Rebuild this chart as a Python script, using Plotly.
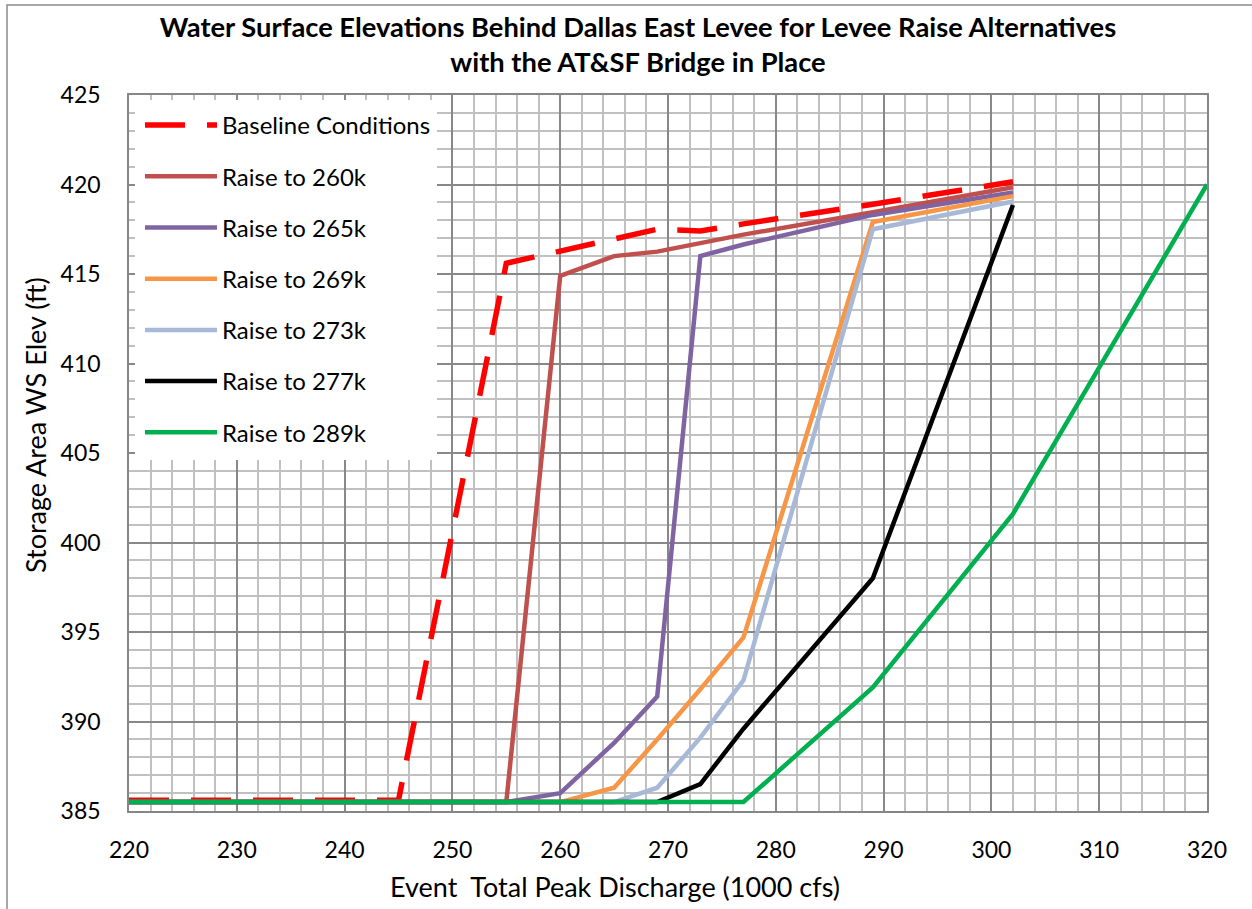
import plotly.graph_objects as go

# Event total peak discharge (1000 cfs) at which each alternative was modelled
discharge = [220, 245, 255, 260, 265, 269, 273, 277, 289, 302, 320]

# Storage-area water surface elevation (ft) for each alternative
baseline = [385.6, 385.6, 415.6, 416.3, 417.0, 417.5, 417.4, 417.8, 418.9, 420.15, None]
raise_260k = [385.5, 385.5, 385.5, 414.9, 416.0, 416.25, 416.75, 417.2, 418.45, 419.85, None]
raise_265k = [385.5, 385.5, 385.5, 386.0, 388.8, 391.4, 416.0, 416.65, 418.3, 419.55, None]
raise_269k = [385.5, 385.5, 385.5, 385.5, 386.3, 389.0, 391.8, 394.7, 417.9, 419.35, None]
raise_273k = [385.5, 385.5, 385.5, 385.5, 385.5, 386.3, 389.1, 392.3, 417.5, 419.05, None]
raise_277k = [385.5, 385.5, 385.5, 385.5, 385.5, 385.5, 386.5, 389.6, 398.0, 418.85, None]
raise_289k = [385.5, 385.5, 385.5, 385.5, 385.5, 385.5, 385.5, 385.5, 391.9, 401.6, 420.0]

series_names = ["Baseline Conditions", "Raise to 260k", "Raise to 265k", "Raise to 269k",
                "Raise to 273k", "Raise to 277k", "Raise to 289k"]
series_values = [baseline, raise_260k, raise_265k, raise_269k, raise_273k, raise_277k, raise_289k]
series_colors = ["#FF0000", "#C0504D", "#8064A2", "#F79646", "#A7B9D7", "#000000", "#00B050"]

x_ticks = list(range(220, 321, 10))
y_ticks = list(range(385, 426, 5))

FONT = "Lato"
W, H = 1252, 909
L, R, T, B = 129, 45, 95, 98          # plot-area margins in px
PW, PH = W - L - R, H - T - B


def px_to_paper(px, py):
    return (px - L) / PW, (H - B - py) / PH


fig = go.Figure()
for i, (name, vals, col) in enumerate(zip(series_names, series_values, series_colors)):
    pts = [(x, y) for x, y in zip(discharge, vals) if y is not None]
    fig.add_trace(go.Scatter(
        x=[p[0] for p in pts], y=[p[1] for p in pts],
        mode="lines", name=name, legendgroup=f"g{i}",
        line=dict(color=col, width=5.5 if i == 0 else 4.5,
                  dash="40px,22px" if i == 0 else "solid"),
    ))

# white panel behind the legend
lx0, ly0 = px_to_paper(135, 460)
lx1, ly1 = px_to_paper(437, 100)
fig.add_shape(type="rect", xref="paper", yref="paper", x0=lx0, y0=ly0, x1=lx1, y1=ly1,
              fillcolor="white", line=dict(width=0), layer="above")

# outer chart frame
fx0, fy0 = px_to_paper(7, 960)
fx1, fy1 = px_to_paper(1300, 5)
fig.add_shape(type="rect", xref="paper", yref="paper", x0=fx0, y0=fy0, x1=fx1, y1=fy1,
              line=dict(color="#8C8C8C", width=1.5), fillcolor="rgba(0,0,0,0)", layer="above")

ax_common = dict(
    showline=True, linecolor="#868686", linewidth=1.5, mirror=True,
    showgrid=True, gridcolor="#888888", gridwidth=1.5,
    ticks="", zeroline=False,
    tickfont=dict(family=FONT, size=23, color="#000000"),
)

fig.update_xaxes(range=[220, 320], tickvals=x_ticks, ticktext=[str(v) for v in x_ticks],
                 minor=dict(dtick=2, showgrid=True, gridcolor="#C0C0C0", gridwidth=1.5),
                 ticklabelstandoff=18, **ax_common)
fig.update_yaxes(range=[385, 425], tickvals=y_ticks, ticktext=[str(v) for v in y_ticks],
                 minor=dict(dtick=1, showgrid=True, gridcolor="#C0C0C0", gridwidth=1.5),
                 ticklabelstandoff=22, **ax_common)

tx, _ = px_to_paper(35, 0)
_, ty = px_to_paper(0, 425)
ax_x, _ = px_to_paper(615, 0)
_, ax_y = px_to_paper(0, 886)

fig.update_layout(
    width=W, height=H,
    margin=dict(l=L, r=R, t=T, b=B),
    paper_bgcolor="white", plot_bgcolor="white",
    font=dict(family=FONT, color="#000000"),
    title=dict(
        text="<b>Water Surface Elevations Behind Dallas East Levee for Levee Raise Alternatives<br>"
             "with the AT&amp;SF Bridge in Place</b>",
        x=638 / W, xanchor="center", y=1 - 37 / H, yanchor="middle",
        font=dict(family=FONT, size=27.3, color="#000000"),
    ),
    legend=dict(
        x=px_to_paper(140, 0)[0], y=px_to_paper(0, 103)[1], xanchor="left", yanchor="top",
        bgcolor="rgba(0,0,0,0)", borderwidth=0,
        font=dict(family=FONT, size=24, color="#000000"),
        tracegroupgap=17, itemwidth=72,
    ),
    annotations=[
        dict(text="Storage Area WS Elev (ft)", xref="paper", yref="paper", x=tx, y=ty,
             textangle=-90, showarrow=False, xanchor="center", yanchor="middle",
             font=dict(family=FONT, size=27, color="#000000")),
        dict(text="Event  Total Peak Discharge (1000 cfs)", xref="paper", yref="paper",
             x=ax_x, y=ax_y, showarrow=False, xanchor="center", yanchor="middle",
             font=dict(family=FONT, size=27, color="#000000")),
    ],
    showlegend=True,
)

fig.write_html("out.html")
